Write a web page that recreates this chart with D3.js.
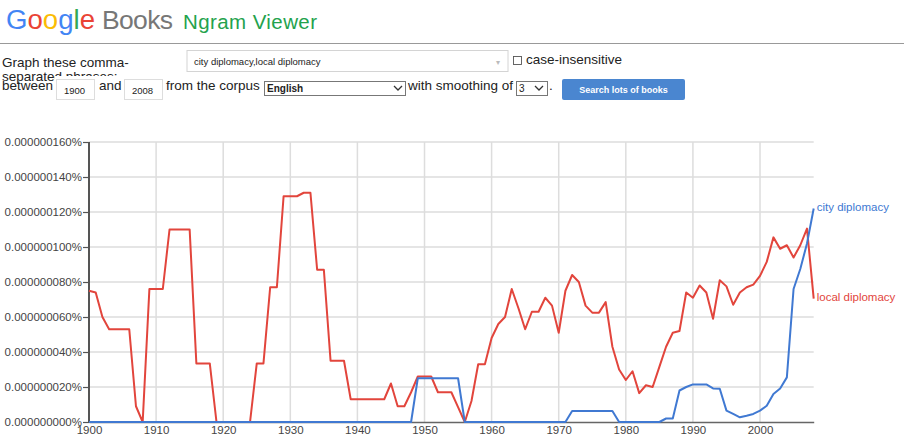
<!DOCTYPE html>
<html>
<head>
<meta charset="utf-8">
<script src="https://cdn.jsdelivr.net/npm/d3@7"></script>
<style>
  html, body { margin: 0; padding: 0; background: #fff; }
  svg { display: block; font-family: Arial, "Liberation Sans", sans-serif; }
</style>
</head>
<body>
<svg id="chart" width="904" height="437"></svg>
<script>
// ---- data (values in units of 0.000000001 %) ----
const years = d3.range(1900, 2009);
const seriesNames = ["city diplomacy", "local diplomacy"];
const localDiplomacy = [
  75, 74, 60, 53, 53, 53, 53, 9, 0, 76,            // 1900-1909
  76, 76, 110, 110, 110, 110, 33.5, 33.5, 33.5, 0, // 1910-1919
  0, 0, 0, 0, 0, 33.5, 33.5, 77, 77, 129,          // 1920-1929
  129, 129, 131, 131, 87, 87, 35, 35, 35, 13,      // 1930-1939
  13, 13, 13, 13, 13, 22, 9, 9, 17, 26,            // 1940-1949
  26, 26, 17, 17, 17, 8.5, 0, 12, 33, 33,          // 1950-1959
  48, 56, 60, 76, 65, 53, 63, 63, 71, 66.5,        // 1960-1969
  51, 75, 84, 80, 66.5, 62.5, 62.5, 68.5, 43, 30,  // 1970-1979
  24, 29, 16.5, 21, 20, 31.5, 43, 51, 52, 74,      // 1980-1989
  71, 78, 74, 59, 81, 77.5, 67, 74, 77, 78.5,      // 1990-1999
  83.5, 91.5, 105.5, 99, 101, 94, 101, 110.5, 70.5 // 2000-2008
];
const cityDiplomacy = [
  0, 0, 0, 0, 0, 0, 0, 0, 0, 0,                    // 1900-1909
  0, 0, 0, 0, 0, 0, 0, 0, 0, 0,                    // 1910-1919
  0, 0, 0, 0, 0, 0, 0, 0, 0, 0,                    // 1920-1929
  0, 0, 0, 0, 0, 0, 0, 0, 0, 0,                    // 1930-1939
  0, 0, 0, 0, 0, 0, 0, 0, 0, 25,                   // 1940-1949
  25, 25, 25, 25, 25, 25, 0, 0, 0, 0,              // 1950-1959
  0, 0, 0, 0, 0, 0, 0, 0, 0, 0,                    // 1960-1969
  0, 0, 6.3, 6.3, 6.3, 6.3, 6.3, 6.3, 6.3, 0,      // 1970-1979
  0, 0, 0, 0, 0, 0, 2, 2, 18, 20,                  // 1980-1989
  21.5, 21.5, 21.5, 19.2, 19, 6.5, 4.6, 2.7, 3.6, 4.6, // 1990-1999
  6.5, 9.3, 16, 19.2, 25.5, 76, 87.4, 102, 122     // 2000-2008
];
const yTicks = [0, 20, 40, 60, 80, 100, 120, 140, 160];
const yTickLabels = ["0.000000000%", "0.000000020%", "0.000000040%", "0.000000060%", "0.000000080%",
                     "0.000000100%", "0.000000120%", "0.000000140%", "0.000000160%"];
const xTicks = [1900, 1910, 1920, 1930, 1940, 1950, 1960, 1970, 1980, 1990, 2000];

const svg = d3.select("#chart");

// ---- header ----
const logo = svg.append("text").attr("x", 6).attr("y", 29).attr("font-size", 27)
  .attr("textLength", 89).attr("lengthAdjust", "spacingAndGlyphs");
const gLetters = [["G", "#4285f4"], ["o", "#ea4335"], ["o", "#fbbc05"], ["g", "#4285f4"], ["l", "#34a853"], ["e", "#ea4335"]];
gLetters.forEach(([c, col]) => logo.append("tspan").attr("fill", col).text(c));
svg.append("text").attr("x", 102).attr("y", 29).attr("font-size", 26.5).attr("fill", "#777")
  .attr("textLength", 71).text("Books");
svg.append("text").attr("x", 183).attr("y", 29).attr("font-size", 20.5).attr("fill", "#23a24d")
  .attr("textLength", 134).text("Ngram Viewer");
svg.append("line").attr("x1", 0).attr("x2", 904).attr("y1", 43.5).attr("y2", 43.5)
  .attr("stroke", "#999").attr("stroke-width", 1);

const fs = 13.5;
svg.append("text").attr("x", 2).attr("y", 66.5).attr("font-size", fs).attr("fill", "#222").text("Graph these comma-");
svg.append("text").attr("x", 2).attr("y", 80.5).attr("font-size", fs).attr("fill", "#222").text("separated phrases:");
svg.append("rect").attr("x", 55).attr("y", 76).attr("width", 80).attr("height", 6).attr("fill", "#fff");

// phrase box
svg.append("rect").attr("x", 187).attr("y", 50.5).attr("width", 321).attr("height", 21)
  .attr("fill", "#fff").attr("stroke", "#d4d4d4");
svg.append("text").attr("x", 194).attr("y", 64.5).attr("font-size", 9.5).attr("fill", "#222")
  .text("city diplomacy,local diplomacy");
svg.append("text").attr("x", 496).attr("y", 65).attr("font-size", 8).attr("fill", "#bbb").text("▾");
svg.append("rect").attr("x", 513.5).attr("y", 56.5).attr("width", 8).attr("height", 8)
  .attr("fill", "#fff").attr("stroke", "#555").attr("stroke-width", 0.9);
svg.append("text").attr("x", 526).attr("y", 64).attr("font-size", fs).attr("fill", "#222").text("case-insensitive");

// row 2
const rowY = 89.5;
svg.append("text").attr("x", 2).attr("y", rowY).attr("font-size", fs).attr("fill", "#222").text("between");
[[56, "1900"], [124, "2008"]].forEach(([x0, t]) => {
  svg.append("rect").attr("x", x0 + 0.5).attr("y", 79.5).attr("width", 38).attr("height", 20)
    .attr("fill", "#fff").attr("stroke", "#ddd");
  svg.append("text").attr("x", x0 + 8).attr("y", 94).attr("font-size", 9.5).attr("fill", "#222").text(t);
});
svg.append("text").attr("x", 99).attr("y", rowY).attr("font-size", fs).attr("fill", "#222").text("and");
svg.append("text").attr("x", 166).attr("y", rowY).attr("font-size", fs).attr("fill", "#222").text("from the corpus");
svg.append("rect").attr("x", 264.5).attr("y", 81.5).attr("width", 141).attr("height", 14)
  .attr("fill", "#fff").attr("stroke", "#777");
svg.append("text").attr("x", 267).attr("y", 92).attr("font-size", 10).attr("font-weight", "bold").attr("fill", "#222").text("English");
svg.append("path").attr("d", "M394,86 l4,4 l4,-4").attr("fill", "none").attr("stroke", "#333").attr("stroke-width", 1.3);
svg.append("text").attr("x", 408).attr("y", rowY).attr("font-size", fs).attr("fill", "#222").text("with smoothing of");
svg.append("rect").attr("x", 516.5).attr("y", 81.5).attr("width", 31).attr("height", 14)
  .attr("fill", "#fff").attr("stroke", "#777");
svg.append("text").attr("x", 519).attr("y", 92).attr("font-size", 10).attr("fill", "#222").text("3");
svg.append("path").attr("d", "M535,86 l4,4 l4,-4").attr("fill", "none").attr("stroke", "#333").attr("stroke-width", 1.3);
svg.append("text").attr("x", 549).attr("y", rowY).attr("font-size", fs).attr("fill", "#222").text(".");
svg.append("rect").attr("x", 562).attr("y", 79).attr("width", 123).attr("height", 21).attr("rx", 2)
  .attr("fill", "#4a86d0");
svg.append("text").attr("x", 623.5).attr("y", 93).attr("text-anchor", "middle").attr("font-size", 9)
  .attr("font-weight", "bold").attr("fill", "#fff").text("Search lots of books");

// ---- chart ----
const x = d3.scaleLinear().domain([1900, 2008]).range([89, 813.7]);
const y = d3.scaleLinear().domain([0, 160]).range([422, 142]);

// grid
svg.append("g").selectAll("line").data(yTicks.slice(1)).join("line")
  .attr("x1", x(1900)).attr("x2", x(2008)).attr("y1", d => y(d)).attr("y2", d => y(d))
  .attr("stroke", "#ddd").attr("stroke-width", 1.5);
svg.append("g").selectAll("line").data(xTicks.slice(1)).join("line")
  .attr("x1", d => x(d)).attr("x2", d => x(d)).attr("y1", y(160)).attr("y2", y(0))
  .attr("stroke", "#ddd").attr("stroke-width", 1.5);

// y axis
const yAxis = d3.axisLeft(y).tickValues(yTicks).tickSize(6).tickPadding(1)
  .tickFormat((d, i) => yTickLabels[i]);
const gy = svg.append("g").attr("transform", `translate(${x(1900)},0)`).call(yAxis);
gy.select(".domain").attr("stroke", "#555").attr("stroke-width", 2).attr("d", `M0,${y(160)}V${y(0)}`);
gy.selectAll(".tick line").attr("stroke", "#555").attr("stroke-width", 1.2);
gy.selectAll(".tick text").attr("font-size", 11.5).attr("fill", "#444").attr("font-family", "Arial, 'Liberation Sans', sans-serif");

// x axis
const xAxis = d3.axisBottom(x).tickValues(xTicks).tickSize(0).tickPadding(4).tickFormat(d3.format("d"));
const gx = svg.append("g").attr("transform", `translate(0,${y(0)})`).call(xAxis);
gx.select(".domain").attr("stroke", "#666").attr("stroke-width", 1.5);
gx.selectAll(".tick text").attr("font-size", 11.5).attr("fill", "#444").attr("font-family", "Arial, 'Liberation Sans', sans-serif");

// lines
const line = d3.line().x((d, i) => x(years[i])).y(d => y(d));
const colors = { "city diplomacy": "#4079d2", "local diplomacy": "#e2453c" };
svg.append("path").datum(localDiplomacy).attr("d", line).attr("fill", "none")
  .attr("stroke", colors["local diplomacy"]).attr("stroke-width", 2).attr("stroke-linejoin", "round");
svg.append("path").datum(cityDiplomacy).attr("d", line).attr("fill", "none")
  .attr("stroke", colors["city diplomacy"]).attr("stroke-width", 2).attr("stroke-linejoin", "round");

// end labels
const ends = [["city diplomacy", cityDiplomacy], ["local diplomacy", localDiplomacy]];
svg.append("g").selectAll("text").data(ends).join("text")
  .attr("x", x(2008) + 3).attr("y", d => y(d[1][d[1].length - 1]) + 2)
  .attr("font-size", 11.5).attr("fill", d => colors[d[0]]).text(d => d[0]);
</script>
</body>
</html>
